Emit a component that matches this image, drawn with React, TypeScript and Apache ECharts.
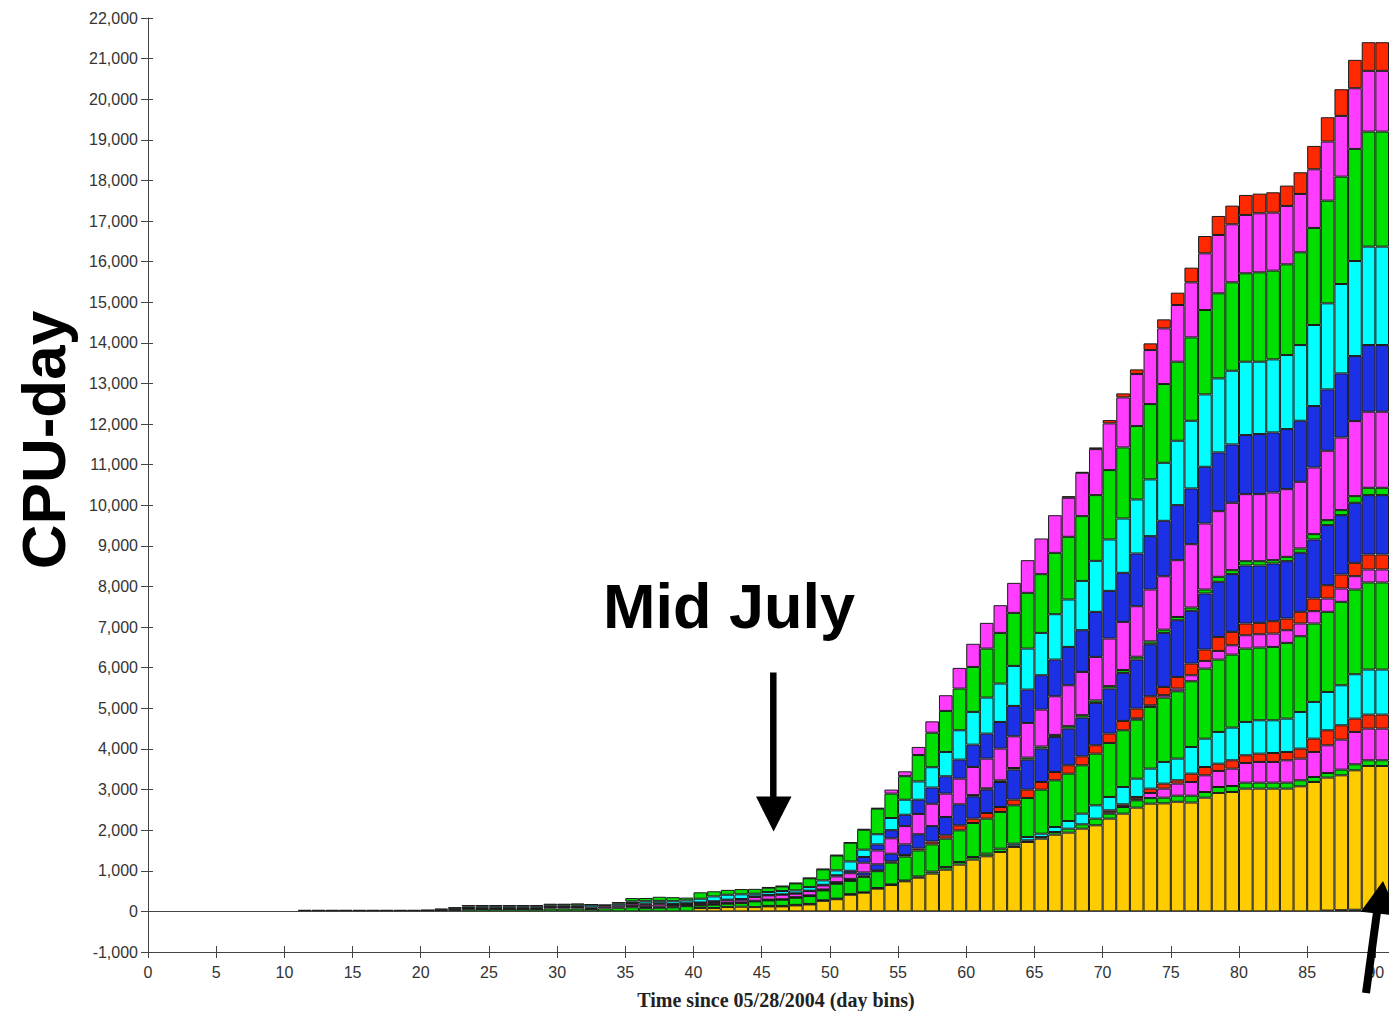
import React, { useEffect, useRef } from "react";
import * as echarts from "echarts";

// ---------- axes ----------
const FIRST_DAY = 0;
const LAST_DAY = 90;
const X_MAX = 91;
const X_TICKS = [0, 5, 10, 15, 20, 25, 30, 35, 40, 45, 50, 55, 60, 65, 70, 75, 80, 85, 90];
const Y_MIN = -1000;
const Y_MAX = 22000;
const Y_STEP = 1000;
const X_TITLE = "Time since 05/28/2004 (day bins)";
const Y_TITLE = "CPU-day";
const NOTE = "Mid July";

// ---------- data: cumulative top of each stacked layer (CPU-day), from its first day on ----------
const tealFrom = 86;
const tealTop = [20, 30, 40, 50, 50];

const goldFrom = 40;
const goldTop = [82, 82, 106, 115, 106, 123, 123, 148, 172, 260, 300, 410, 460, 560, 650, 740, 830, 930, 1027, 1152, 1275, 1356, 1463, 1587, 1709, 1791, 1889, 1939, 2037, 2120, 2284, 2407, 2555, 2653, 2660, 2700, 2680, 2801, 2916, 2940, 3023, 3023, 3023, 3023, 3080, 3187, 3294, 3351, 3474, 3581, 3581];

const green1From = 45;
const green1Top = [135, 135, 160, 185, 275, 315, 425, 470, 575, 665, 760, 860, 980, 1094, 1217, 1340, 1422, 1545, 1620, 1750, 1830, 1955, 2037, 2144, 2284, 2407, 2571, 2735, 2790, 2800, 2850, 2850, 2940, 3063, 3088, 3170, 3170, 3170, 3170, 3228, 3310, 3409, 3491, 3622, 3721, 3721];

const magenta1From = 70;
const magenta1Top = [2440, 2590, 2760, 2916, 3023, 3146, 3187, 3351, 3458, 3515, 3655, 3680, 3680, 3721, 3762, 3926, 4090, 4230, 4419, 4501, 4501];

const red1From = 70;
const red1Top = [2489, 2637, 2818, 3023, 3146, 3228, 3392, 3556, 3638, 3721, 3844, 3885, 3901, 3926, 4008, 4254, 4460, 4583, 4747, 4846, 4846];

const cyan1From = 63;
const cyan1Top = [1668, 1832, 1914, 2078, 2226, 2407, 2612, 2818, 3064, 3269, 3516, 3680, 3762, 4049, 4254, 4419, 4525, 4665, 4706, 4706, 4747, 4911, 5158, 5404, 5568, 5840, 5955, 5955];

const green2From = 11;
const green2Top = [15, 15, 15, 15, 15, 15, 15, 15, 15, 15, 20, 25, 55, 60, 60, 60, 60, 60, 70, 70, 70, 60, 75, 90, 100, 80, 90, 100, 130, 147, 164, 189, 205, 246, 271, 287, 336, 378, 517, 681, 750, 850, 990, 1200, 1350, 1500, 1650, 1791, 1996, 2177, 2284, 2448, 2612, 2793, 2998, 3228, 3392, 3598, 3885, 4148, 4460, 4723, 5035, 5265, 5420, 5667, 5979, 6201, 6324, 6472, 6497, 6513, 6612, 6776, 7089, 7377, 7623, 7926, 8100, 8100];

const magenta2From = 72;
const magenta2Top = [4753, 5075, 5325, 5487, 5815, 6168, 6414, 6554, 6800, 6825, 6841, 6924, 7089, 7393, 7705, 7951, 8255, 8419, 8419];

const red2From = 45;
const red2Top = [280, 293, 342, 385, 525, 690, 770, 880, 1010, 1230, 1390, 1550, 1720, 1873, 2120, 2284, 2423, 2571, 2752, 2998, 3187, 3433, 3598, 3819, 4091, 4378, 4690, 4994, 5298, 5528, 5774, 6102, 6447, 6759, 6883, 7089, 7105, 7146, 7212, 7377, 7705, 8033, 8297, 8583, 8789, 8789];

const blue1From = 35;
const blue1Top = [130, 110, 115, 120, 150, 160, 180, 205, 220, 260, 290, 300, 350, 395, 540, 720, 800, 960, 1160, 1420, 1650, 1900, 2100, 2325, 2637, 2834, 3000, 3187, 3491, 3737, 4009, 4296, 4501, 4772, 5134, 5487, 5873, 6201, 6579, 6858, 7170, 7401, 7828, 8116, 8305, 8518, 8518, 8567, 8624, 8830, 9158, 9512, 9758, 10062, 10251, 10251];

const green3From = 60;
const green3Top = [2864, 3030, 3227, 3531, 3787, 4059, 4346, 4561, 4832, 5194, 5547, 5943, 6271, 6649, 6938, 7250, 7483, 7926, 8239, 8403, 8624, 8624, 8649, 8731, 8937, 9290, 9635, 9881, 10226, 10431, 10431];

const magenta3From = 20;
const magenta3Top = [25, 40, 50, 82, 90, 90, 90, 90, 90, 110, 110, 110, 100, 123, 140, 189, 164, 175, 160, 180, 205, 230, 271, 287, 353, 394, 410, 435, 500, 640, 862, 940, 1200, 1500, 1800, 2100, 2400, 2650, 2900, 3269, 3557, 3762, 4009, 4312, 4641, 4969, 5298, 5569, 5897, 6267, 6719, 7129, 7515, 7926, 8254, 8649, 9043, 9553, 9856, 10062, 10275, 10275, 10316, 10398, 10579, 10932, 11343, 11671, 12074, 12304, 12304];

const blue2From = 35;
const blue2Top = [205, 190, 200, 180, 200, 220, 250, 290, 305, 370, 405, 420, 445, 510, 655, 890, 1000, 1340, 1650, 2000, 2380, 2750, 3050, 3327, 3737, 4107, 4378, 4665, 5060, 5462, 5815, 6201, 6513, 6924, 7376, 7893, 8337, 8813, 9240, 9618, 10004, 10415, 10949, 11302, 11499, 11729, 11754, 11795, 11877, 12082, 12444, 12854, 13248, 13675, 13946, 13946];

const cyan2From = 22;
const cyan2Top = [70, 120, 125, 125, 125, 125, 125, 150, 150, 150, 164, 150, 189, 246, 250, 260, 250, 270, 312, 369, 410, 420, 435, 476, 501, 517, 599, 763, 1010, 1230, 1520, 1900, 2300, 2750, 3200, 3550, 3926, 4460, 4912, 5265, 5610, 6045, 6472, 6858, 7318, 7680, 8139, 8632, 9158, 9675, 10144, 10637, 11047, 11590, 12082, 12731, 13125, 13314, 13536, 13536, 13593, 13700, 13946, 14440, 14973, 15450, 16016, 16370, 16370];

const green4From = 11;
const green4Top = [35, 35, 35, 35, 35, 35, 35, 35, 35, 35, 70, 105, 156, 156, 156, 156, 156, 156, 189, 189, 197, 172, 164, 230, 328, 330, 360, 350, 340, 470, 495, 530, 550, 555, 583, 615, 690, 815, 1035, 1375, 1690, 2010, 2530, 2900, 3330, 3850, 4400, 4936, 5487, 6020, 6472, 6858, 7351, 7844, 8304, 8829, 9224, 9733, 10251, 10867, 11425, 11951, 12493, 12986, 13536, 14135, 14809, 15220, 15491, 15713, 15737, 15778, 15934, 16230, 16830, 17503, 18094, 18776, 19203, 19203];

const magenta4From = 45;
const magenta4Top = [595, 625, 700, 825, 1045, 1390, 1700, 2030, 2546, 3000, 3450, 4050, 4680, 5323, 5996, 6590, 7105, 7540, 8090, 8649, 9183, 9757, 10185, 10801, 11384, 12017, 12657, 13232, 13823, 14357, 14932, 15491, 16205, 16657, 16920, 17150, 17191, 17207, 17372, 17667, 18275, 18957, 19589, 20271, 20698, 20698];

const red3From = 67;
const red3Top = [10226, 10820, 11425, 12099, 12756, 13347, 13988, 14579, 15236, 15852, 16632, 17125, 17380, 17643, 17675, 17708, 17873, 18201, 18850, 19556, 20246, 20969, 21404, 21404];

// ---------- colours ----------
const GOLD = "#FFCC00";
const GREEN = "#00E000";
const MAGENTA = "#FF3CFF";
const RED = "#FF2800";
const CYAN = "#00FFFF";
const BLUE = "#1C30E6";
const TEAL = "#2FA3A3";

const LAYERS = [
  { color: TEAL, from: tealFrom, top: tealTop },
  { color: GOLD, from: goldFrom, top: goldTop },
  { color: GREEN, from: green1From, top: green1Top },
  { color: MAGENTA, from: magenta1From, top: magenta1Top },
  { color: RED, from: red1From, top: red1Top },
  { color: CYAN, from: cyan1From, top: cyan1Top },
  { color: GREEN, from: green2From, top: green2Top },
  { color: MAGENTA, from: magenta2From, top: magenta2Top },
  { color: RED, from: red2From, top: red2Top },
  { color: BLUE, from: blue1From, top: blue1Top },
  { color: GREEN, from: green3From, top: green3Top },
  { color: MAGENTA, from: magenta3From, top: magenta3Top },
  { color: BLUE, from: blue2From, top: blue2Top },
  { color: CYAN, from: cyan2From, top: cyan2Top },
  { color: GREEN, from: green4From, top: green4Top },
  { color: MAGENTA, from: magenta4From, top: magenta4Top },
  { color: RED, from: red3From, top: red3Top },
];

const DAYS: number[] = [];
for (let d = FIRST_DAY; d <= LAST_DAY; d++) DAYS.push(d);

// turn cumulative tops into stack segment heights
function buildSegments(): (number | null)[][] {
  const segs: (number | null)[][] = LAYERS.map(() => []);
  DAYS.forEach((d) => {
    let prev = 0;
    LAYERS.forEach((L, k) => {
      const j = d - L.from;
      const v = j >= 0 && j < L.top.length ? L.top[j] : null;
      if (v == null) {
        segs[k].push(null);
        return;
      }
      segs[k].push(Math.max(0, v - prev));
      prev = Math.max(prev, v);
    });
  });
  return segs;
}

const W = 1389;
const H = 1011;
const GRID_LEFT = 148;
const GRID_TOP = 18;
const GRID_BOTTOM = 59;
const AXIS = "#444";
const LABEL = "#333";
const FONT = '"Liberation Sans", Arial, sans-serif';

export default function App() {
  const ref = useRef<HTMLDivElement>(null);
  useEffect(() => {
    if (!ref.current) return;
    const chart = echarts.init(ref.current, null, { renderer: "svg" });
    const segs = buildSegments();
    const series: any[] = LAYERS.map((L, k) => ({
      type: "bar",
      stack: "cpu",
      xAxisIndex: 0,
      yAxisIndex: 0,
      barCategoryGap: "0%",
      data: segs[k],
      itemStyle: { color: L.color, borderColor: "#1a1a1a", borderWidth: 1 },
      emphasis: { disabled: true },
      silent: true,
    }));
    series[0].markLine = {
      silent: true,
      symbol: "none",
      label: { show: false },
      lineStyle: { color: AXIS, width: 1, type: "solid" },
      data: [{ yAxis: 0 }],
    };
    const fmt = (v: number) => v.toLocaleString("en-US");
    chart.setOption({
      animation: false,
      backgroundColor: "#fff",
      grid: { left: GRID_LEFT, right: 0, top: GRID_TOP, bottom: GRID_BOTTOM, containLabel: false },
      xAxis: [
        {
          type: "category",
          data: DAYS.map(String),
          boundaryGap: true,
          show: false,
          position: "bottom",
          axisLine: { onZero: false },
        },
        {
          type: "value",
          min: 0,
          max: X_MAX,
          interval: 5,
          position: "bottom",
          axisLine: { show: true, onZero: false, lineStyle: { color: AXIS, width: 1 } },
          axisTick: { show: true, length: 6, customValues: X_TICKS, lineStyle: { color: AXIS } },
          axisLabel: { color: LABEL, fontSize: 16, fontFamily: FONT, margin: 12, customValues: X_TICKS },
          splitLine: { show: false },
        },
        {
          type: "value",
          min: 0,
          max: X_MAX,
          interval: 5,
          position: "bottom",
          axisLine: { show: false, onZero: false },
          axisTick: { show: true, inside: true, length: 6, customValues: X_TICKS, lineStyle: { color: AXIS } },
          axisLabel: { show: false },
          splitLine: { show: false },
        },
      ],
      yAxis: [
        {
          type: "value",
          min: Y_MIN,
          max: Y_MAX,
          interval: Y_STEP,
          position: "left",
          axisLine: { show: true, onZero: false, lineStyle: { color: AXIS, width: 1 } },
          axisTick: { show: true, length: 7, lineStyle: { color: AXIS } },
          axisLabel: { color: LABEL, fontSize: 16, fontFamily: FONT, margin: 10, formatter: fmt },
          splitLine: { show: false },
        },
        {
          type: "value",
          min: Y_MIN,
          max: Y_MAX,
          interval: Y_STEP,
          position: "left",
          axisLine: { show: false, onZero: false },
          axisTick: { show: true, inside: true, length: 5, lineStyle: { color: AXIS } },
          axisLabel: { show: false },
          splitLine: { show: false },
        },
      ],
      series,
      graphic: [
        {
          type: "text",
          x: 776,
          y: 1000,
          z: 100,
          style: {
            text: X_TITLE,
            font: 'bold 20px "Liberation Serif", "Times New Roman", serif',
            fill: "#222",
            textAlign: "center",
            textVerticalAlign: "middle",
            align: "center",
            verticalAlign: "middle",
          },
        },
        {
          type: "text",
          x: 43,
          y: 440,
          z: 100,
          rotation: Math.PI / 2,
          style: {
            text: Y_TITLE,
            font: 'bold 62px "Liberation Sans", Arial, sans-serif',
            fill: "#000",
            textAlign: "center",
            textVerticalAlign: "middle",
            align: "center",
            verticalAlign: "middle",
          },
        },
        {
          type: "text",
          x: 729,
          y: 606,
          z: 100,
          style: {
            text: NOTE,
            font: 'bold 63px "Liberation Sans", Arial, sans-serif',
            fill: "#000",
            textAlign: "center",
            textVerticalAlign: "middle",
            align: "center",
            verticalAlign: "middle",
          },
        },
        {
          type: "line",
          z: 100,
          shape: { x1: 773.3, y1: 672.5, x2: 773.3, y2: 800 },
          style: { stroke: "#000", lineWidth: 6.5 },
        },
        {
          type: "polygon",
          z: 100,
          shape: { points: [[756, 796.5], [791.5, 796.5], [773.6, 831.5]] },
          style: { fill: "#000" },
        },
        {
          type: "line",
          z: 100,
          shape: { x1: 1366, y1: 993, x2: 1377, y2: 912 },
          style: { stroke: "#000", lineWidth: 8 },
        },
        {
          type: "polygon",
          z: 100,
          shape: { points: [[1360.7, 911.7], [1398.3, 915.7], [1383, 881]] },
          style: { fill: "#000" },
        },
      ],
    });
    return () => chart.dispose();
  }, []);
  return (
    <div
      ref={ref}
      style={{ position: "absolute", left: 0, top: 0, width: W, height: H, background: "#fff" }}
    />
  );
}
